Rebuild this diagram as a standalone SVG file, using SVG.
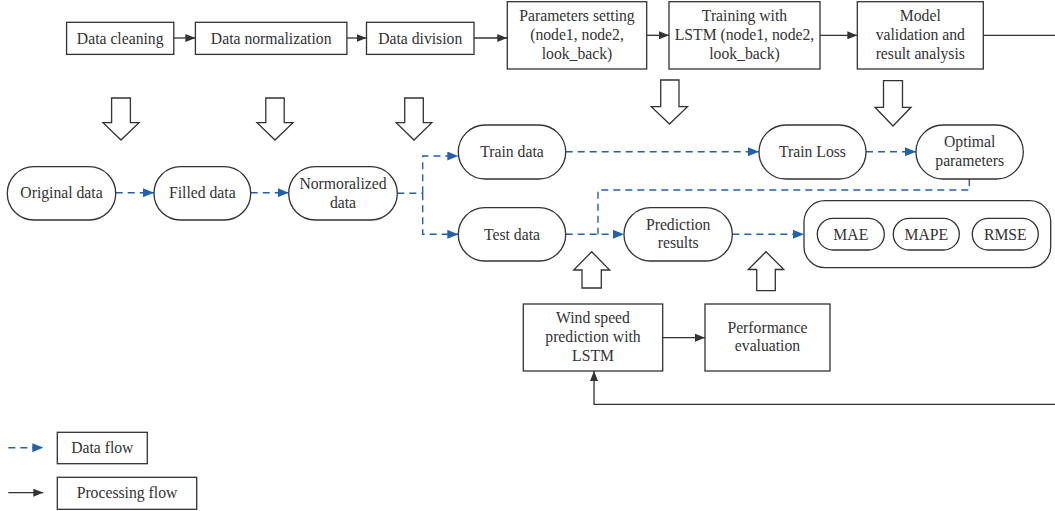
<svg xmlns="http://www.w3.org/2000/svg" width="1055" height="511" viewBox="0 0 1055 511">
<defs>
<style>
.box{fill:#fff;stroke:#333;stroke-width:1.3}
.pill{fill:#fff;stroke:#333;stroke-width:1.3}
.hol{fill:#fff;stroke:#333;stroke-width:1.3;stroke-linejoin:miter}
.t{font-family:"Liberation Serif","Times New Roman",serif;font-size:15.7px;fill:#333;text-anchor:middle}
.solid{fill:none;stroke:#333;stroke-width:1.3}
.dash{fill:none;stroke:#2161ad;stroke-width:1.4;stroke-dasharray:7 5}
</style>
<marker id="ab" markerUnits="userSpaceOnUse" markerWidth="10" markerHeight="8" refX="10" refY="4" orient="auto"><path d="M0,0 L10,4 L0,8 z" fill="#333"/></marker>
<marker id="au" markerUnits="userSpaceOnUse" markerWidth="11" markerHeight="9" refX="11" refY="4.5" orient="auto"><path d="M0,0 L11,4.5 L0,9 z" fill="#2161ad"/></marker>
</defs>
<rect width="1055" height="511" fill="#fff"/>

<g id="connectors">
<line class="solid" x1="173.8" y1="38" x2="195.4" y2="38" marker-end="url(#ab)"/>
<line class="solid" x1="346.9" y1="38" x2="366.5" y2="38" marker-end="url(#ab)"/>
<line class="solid" x1="474" y1="38" x2="507.3" y2="38" marker-end="url(#ab)"/>
<line class="solid" x1="646.7" y1="35.3" x2="669" y2="35.3" marker-end="url(#ab)"/>
<line class="solid" x1="820" y1="35.3" x2="857.3" y2="35.3" marker-end="url(#ab)"/>
<line class="solid" x1="983.3" y1="35.3" x2="1055" y2="35.3"/>
<line class="solid" x1="662.7" y1="337.7" x2="705" y2="337.7" marker-end="url(#ab)"/>
<polyline class="solid" points="1055,404.3 594,404.3 594,371" marker-end="url(#ab)"/>

<line class="dash" x1="115.7" y1="192.7" x2="154" y2="192.7" marker-end="url(#au)"/>
<line class="dash" x1="250.7" y1="192.7" x2="288.7" y2="192.7" marker-end="url(#au)"/>
<polyline class="dash" points="397.3,193.3 422.7,193.3"/>
<polyline class="dash" points="422.7,193.3 422.7,156 458.3,156" marker-end="url(#au)"/>
<polyline class="dash" points="422.7,193.3 422.7,234.3 458.3,234.3" marker-end="url(#au)"/>
<line class="dash" x1="565.7" y1="151.7" x2="759" y2="151.7" marker-end="url(#au)"/>
<line class="dash" x1="866" y1="151.7" x2="916" y2="151.7" marker-end="url(#au)"/>
<polyline class="dash" points="969.3,179 969.3,190 598,190 598,234.3"/>
<line class="dash" x1="565.7" y1="234.3" x2="624" y2="234.3" marker-end="url(#au)"/>
<line class="dash" x1="732.3" y1="234.3" x2="804" y2="234.3" marker-end="url(#au)"/>

<line class="dash" x1="8.3" y1="447.7" x2="43.3" y2="447.7" marker-end="url(#au)"/>
<line class="solid" x1="8.3" y1="492.7" x2="43.3" y2="492.7" marker-end="url(#ab)"/>
</g>

<g id="hollow-arrows">
<polygon class="hol" points="111.6,98 130.4,98 130.4,122.7 139,122.7 121,140 103,122.7 111.6,122.7"/>
<polygon class="hol" points="265.8,98 284.2,98 284.2,122.7 293,122.7 275,140 257,122.7 265.8,122.7"/>
<polygon class="hol" points="404.7,98 423.3,98 423.3,122.7 431.8,122.7 414,140 396.2,122.7 404.7,122.7"/>
<polygon class="hol" points="660.7,80 679,80 679,106.7 687.5,106.7 669.5,124 651.3,106.7 660.7,106.7"/>
<polygon class="hol" points="883.5,80.7 902.5,80.7 902.5,107.3 911,107.3 893,126 875,107.3 883.5,107.3"/>
<polygon class="hol" points="582,288 601.3,288 601.3,270 609.7,270 591.7,251.7 573.7,270 582,270"/>
<polygon class="hol" points="756.7,290.7 775.3,290.7 775.3,269.5 783.8,269.5 766,251.7 748.3,269.5 756.7,269.5"/>
</g>

<g id="data-cleaning"><rect class="box" x="66.6" y="22.3" width="107.2" height="32.1"/><text class="t" x="120.2" y="43.5">Data cleaning</text></g>
<g id="data-normalization"><rect class="box" x="195.4" y="22.3" width="151.5" height="32.1"/><text class="t" x="271.2" y="43.5">Data normalization</text></g>
<g id="data-division"><rect class="box" x="366.5" y="22.3" width="107.5" height="32.1"/><text class="t" x="420.2" y="43.5">Data division</text></g>
<g id="parameters-setting"><rect class="box" x="507.3" y="1.7" width="139.4" height="67.3"/><text class="t" x="577" y="21"><tspan x="577">Parameters setting</tspan><tspan x="577" y="40">(node1, node2,</tspan><tspan x="577" y="59">look_back)</tspan></text></g>
<g id="training-lstm"><rect class="box" x="669" y="1.7" width="151" height="67.3"/><text class="t" x="744.5" y="21"><tspan x="744.5">Training with</tspan><tspan x="744.5" y="40">LSTM (node1, node2,</tspan><tspan x="744.5" y="59">look_back)</tspan></text></g>
<g id="model-validation"><rect class="box" x="857.3" y="1.7" width="126" height="67.3"/><text class="t" x="920.3" y="21"><tspan x="920.3">Model</tspan><tspan x="920.3" y="40">validation and</tspan><tspan x="920.3" y="59">result analysis</tspan></text></g>

<g id="original-data"><rect class="pill" x="7.3" y="166.7" width="108.4" height="53.3" rx="26.5"/><text class="t" x="61.5" y="198.2">Original data</text></g>
<g id="filled-data"><rect class="pill" x="154" y="166.7" width="96.7" height="53.3" rx="26.5"/><text class="t" x="202.3" y="198.2">Filled data</text></g>
<g id="normoralized-data"><rect class="pill" x="288.7" y="166.7" width="108.6" height="53.3" rx="26.5"/><text class="t" x="343" y="188.5"><tspan x="343">Normoralized</tspan><tspan x="343" y="207.5">data</tspan></text></g>

<g id="train-data"><rect class="pill" x="458.3" y="125" width="107.4" height="54" rx="27"/><text class="t" x="512" y="157.2">Train data</text></g>
<g id="test-data"><rect class="pill" x="458.3" y="207.7" width="107.4" height="53.3" rx="26.5"/><text class="t" x="512" y="239.8">Test data</text></g>
<g id="train-loss"><rect class="pill" x="759" y="125" width="107" height="54" rx="27"/><text class="t" x="812.5" y="157.2">Train Loss</text></g>
<g id="optimal-parameters"><rect class="pill" x="916" y="125" width="107.3" height="54" rx="27"/><text class="t" x="969.7" y="146.8"><tspan x="969.7">Optimal</tspan><tspan x="969.7" y="165.5">parameters</tspan></text></g>
<g id="prediction-results"><rect class="pill" x="624" y="207.7" width="108.3" height="53.3" rx="26.5"/><text class="t" x="678.2" y="229.5"><tspan x="678.2">Prediction</tspan><tspan x="678.2" y="248.3">results</tspan></text></g>

<g id="metrics">
<rect class="box" x="804" y="200.7" width="246.7" height="67" rx="21"/>
<g id="mae"><rect class="pill" x="817.3" y="218.3" width="67" height="31.7" rx="15.8"/><text class="t" x="850.8" y="239.8">MAE</text></g>
<g id="mape"><rect class="pill" x="893.3" y="218.3" width="66" height="31.7" rx="15.8"/><text class="t" x="926.3" y="239.8">MAPE</text></g>
<g id="rmse"><rect class="pill" x="972.3" y="218.3" width="66" height="31.7" rx="15.8"/><text class="t" x="1005.3" y="239.8">RMSE</text></g>
</g>

<g id="wind-speed-prediction"><rect class="box" x="523.3" y="304" width="139.4" height="67"/><text class="t" x="593" y="322.5"><tspan x="593">Wind speed</tspan><tspan x="593" y="341.5">prediction with</tspan><tspan x="593" y="360.5">LSTM</tspan></text></g>
<g id="performance-evaluation"><rect class="box" x="705" y="304" width="125" height="67"/><text class="t" x="767.5" y="332.7"><tspan x="767.5">Performance</tspan><tspan x="767.5" y="351.3">evaluation</tspan></text></g>

<g id="legend-data-flow"><rect class="box" x="57.3" y="432.3" width="90" height="31.4"/><text class="t" x="102.3" y="452.5">Data flow</text></g>
<g id="legend-processing-flow"><rect class="box" x="57.3" y="477.3" width="139.4" height="32"/><text class="t" x="127" y="497.5">Processing flow</text></g>
</svg>
